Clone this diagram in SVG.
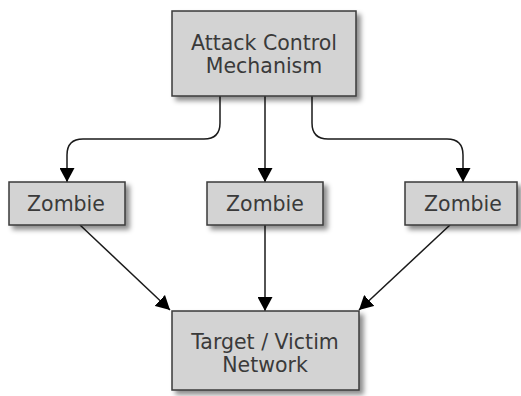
<svg xmlns="http://www.w3.org/2000/svg" width="521" height="396" viewBox="0 0 521 396">
<style>
.box{fill:#d3d3d3;stroke:#3a3a3a;stroke-width:1.5;filter:url(#sh)}
.t{font-family:"DejaVu Sans",Verdana,sans-serif;font-size:20.5px;fill:#3a3a3a;text-anchor:middle}
.c{fill:none;stroke:#1a1a1a;stroke-width:1.5}
</style>
<defs>
<filter id="sh" x="-10%" y="-10%" width="130%" height="140%">
<feDropShadow dx="4" dy="4" stdDeviation="2.5" flood-color="#000" flood-opacity="0.45"/>
</filter>
<marker id="ah" markerWidth="15" markerHeight="15" refX="14" refY="7.5" orient="auto" markerUnits="userSpaceOnUse">
<path d="M0,0 L14,7.5 L0,15 Z" fill="#000"/>
</marker>
</defs>
<rect width="521" height="396" fill="#fff"/>
<g id="connectors">
<path class="c" d="M220,96 V123 Q220,139 204,139 H83 Q67,139 67,155 V182" marker-end="url(#ah)"/>
<path class="c" d="M265,96 V182" marker-end="url(#ah)"/>
<path class="c" d="M312,96 V123 Q312,139 328,139 H447 Q463,139 463,155 V182" marker-end="url(#ah)"/>
<path class="c" d="M80,225 L170,310" stroke-width="1" marker-end="url(#ah)"/>
<path class="c" d="M265,225 V311" marker-end="url(#ah)"/>
<path class="c" d="M450,225 L359,310" stroke-width="1" marker-end="url(#ah)"/>
</g>
<g id="attack">
<rect class="box" x="172" y="11" width="184" height="85"/>
<text class="t" x="264" y="50">Attack Control</text>
<text class="t" x="264" y="73">Mechanism</text>
</g>
<g id="zombie1">
<rect class="box" x="9" y="182" width="116" height="43"/>
<text class="t" x="66" y="211">Zombie</text>
</g>
<g id="zombie2">
<rect class="box" x="207" y="182" width="116" height="43"/>
<text class="t" x="265" y="211">Zombie</text>
</g>
<g id="zombie3">
<rect class="box" x="405" y="182" width="112" height="43"/>
<text class="t" x="463" y="211">Zombie</text>
</g>
<g id="target">
<rect class="box" x="172" y="311" width="187" height="79"/>
<text class="t" x="265" y="349">Target / Victim</text>
<text class="t" x="265" y="372">Network</text>
</g>
</svg>
